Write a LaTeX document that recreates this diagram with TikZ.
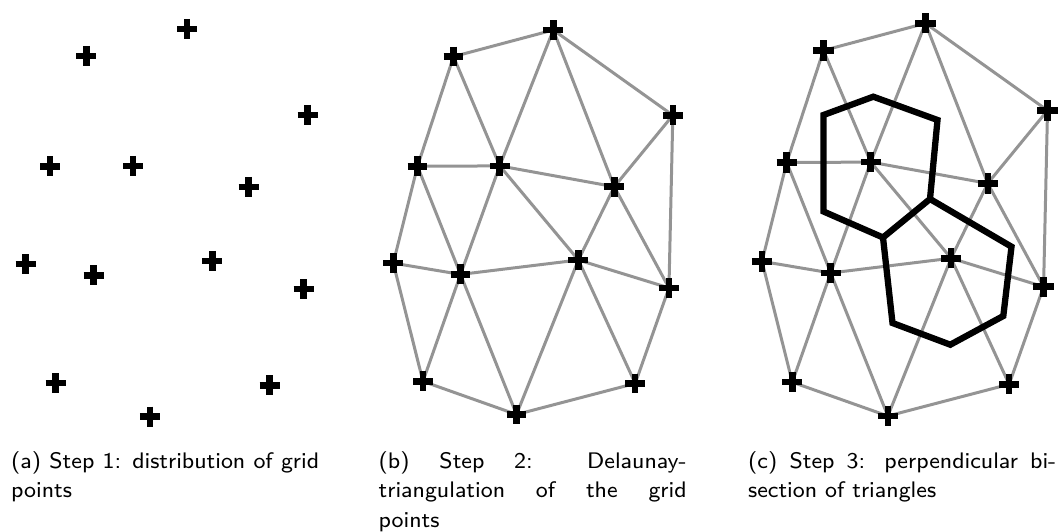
\documentclass[tikz,border=0pt]{standalone}
\usepackage{fontspec}
\newfontfamily\capfam{lmsans8-regular.otf}
\newcommand\captxt{\capfam\fontsize{22.5}{29.3}\selectfont}
\tikzset{
  gp/.style={inner sep=0pt, minimum size=0pt, outer sep=0pt},
  edge/.style={draw=black!42, line width=3pt},
  plusmark/.style={draw=black, line width=6.5pt},
  cell/.style={draw=black, line width=6.3pt, line join=miter},
  captext/.style={font=\captxt, text width=308pt, align=justify, inner sep=0pt, anchor=base west}
}
\newcommand\placepoints[1]{%
  \node[gp] (#1top) at (187,29) {};
  \node[gp] (#1tl)  at (86.4,55.8) {};
  \node[gp] (#1r)   at (307.5,115) {};
  \node[gp] (#1lA)  at (50.1,166.4) {};
  \node[gp] (#1cA)  at (133,166) {};
  \node[gp] (#1cB)  at (248.5,187) {};
  \node[gp] (#1lB)  at (25.7,264) {};
  \node[gp] (#1cC)  at (93.5,275.4) {};
  \node[gp] (#1cD)  at (212.3,260.9) {};
  \node[gp] (#1rB)  at (303.6,289) {};
  \node[gp] (#1bA)  at (55.6,383.2) {};
  \node[gp] (#1bB)  at (269.6,385.3) {};
  \node[gp] (#1bC)  at (149.9,416.6) {};
}
\newcommand\drawedges[1]{%
  \foreach \u/\v in {top/tl,top/cA,top/cB,top/r,tl/lA,tl/cA,r/cB,r/rB,
    lA/cA,lA/cC,lA/lB,cA/cC,cA/cD,cA/cB,cB/cD,cB/rB,lB/cC,lB/bA,
    cC/cD,cC/bA,cC/bC,cD/rB,cD/bC,cD/bB,rB/bB,bA/bC,bC/bB}
    \draw[edge] (#1\u) -- (#1\v);
}
\newcommand\drawplus[1]{%
  \foreach \n in {top,tl,r,lA,cA,cB,lB,cC,cD,rB,bA,bB,bC}
    \draw[plusmark] (#1\n) ++(-10,0) -- ++(20,0) (#1\n) ++(0,-10) -- ++(0,20);
}
\begin{document}
\begin{tikzpicture}[x=1pt,y=-1pt]
\useasboundingbox (0,0) rectangle (1061,532);
% panel (a)
\begin{scope}
  \placepoints{a}
  \drawplus{a}
\end{scope}
% panel (b)
\begin{scope}[shift={(367.8,1.23)}, scale=0.992]
  \placepoints{b}
  \drawedges{b}
  \drawplus{b}
\end{scope}
% panel (c)
\begin{scope}[shift={(735.97,-6.08)}, scale=1.013]
  \placepoints{c}
  \drawedges{c}
\end{scope}
\draw[cell] (873.3,96.7) -- (937.5,120) -- (930,199) -- (883,237.5) -- (823.5,211.5) -- (823.5,115) -- cycle;
\draw[cell] (930,199) -- (1011.5,246.7) -- (1003.3,316) -- (950.3,344.7) -- (892.5,323) -- (883,237.5);
\begin{scope}[shift={(735.97,-6.08)}, scale=1.013]
  \drawplus{c}
\end{scope}
% captions
\node[captext] (capa) at (11,468.5) {(a) Step 1: distribution of grid\linebreak points};
\node[captext] (capb) at (378.5,468.5) {(b) Step 2: Delaunay-\linebreak triangulation of the grid\linebreak points};
\node[captext] (capc) at (748,468.5) {(c) Step 3: perpendicular bi-\linebreak section of triangles};
\end{tikzpicture}
\end{document}
